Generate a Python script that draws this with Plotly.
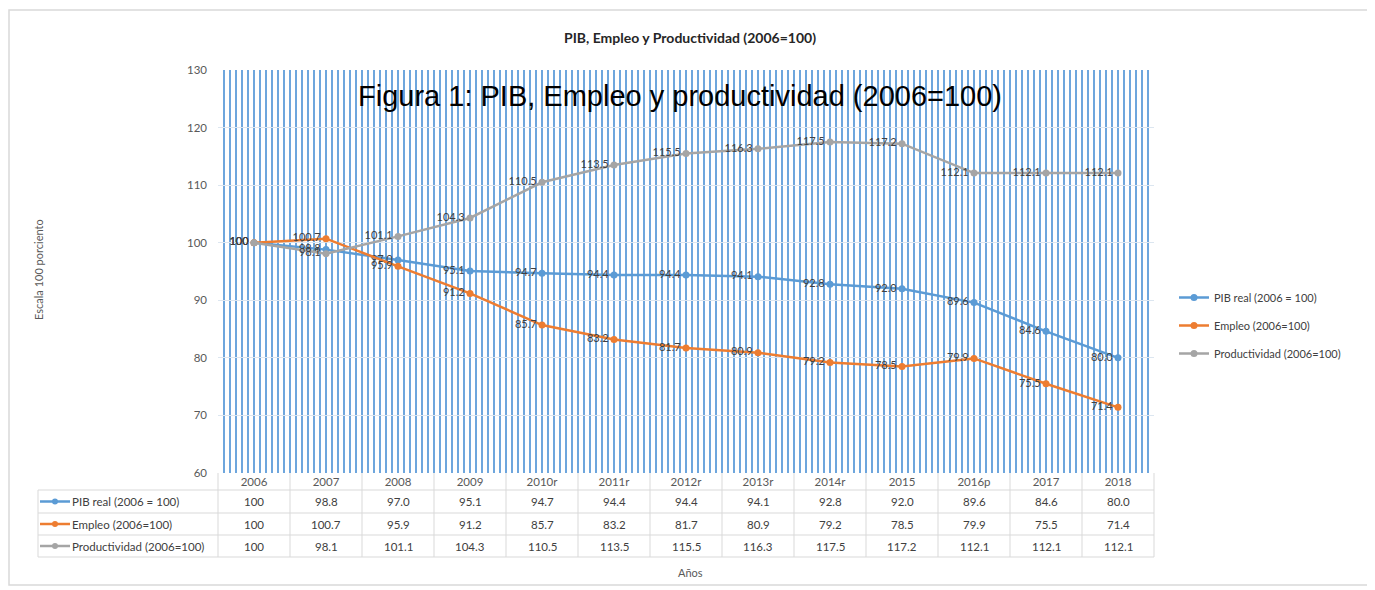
import plotly.graph_objects as go

years = ["2006", "2007", "2008", "2009", "2010r", "2011r", "2012r", "2013r",
         "2014r", "2015", "2016p", "2017", "2018"]
pib = [100, 98.8, 97.0, 95.1, 94.7, 94.4, 94.4, 94.1, 92.8, 92.0, 89.6, 84.6, 80.0]
empleo = [100, 100.7, 95.9, 91.2, 85.7, 83.2, 81.7, 80.9, 79.2, 78.5, 79.9, 75.5, 71.4]
productividad = [100, 98.1, 101.1, 104.3, 110.5, 113.5, 115.5, 116.3, 117.5, 117.2, 112.1, 112.1, 112.1]

series_names = ["PIB real (2006 = 100)", "Empleo (2006=100)", "Productividad (2006=100)"]
series_vals = [pib, empleo, productividad]
colors = ["#5b9bd5", "#ed7d31", "#a5a5a5"]

OFF = 8  # page body offset
W, H = 1375, 590
L, R, T, B = 218 - OFF, 221 + OFF, 70 - OFF, 117 + OFF
PW = W - L - R
PH = H - T - B


def px_x(px):
    return (px - OFF - L) / PW


def px_y(py):
    return (H - B - (py - OFF)) / PH


def fmt(v):
    return "100" if v == 100 else f"{v:.1f}"


idx = list(range(len(years)))
FONT = "Lato, 'Open Sans', sans-serif"

fig = go.Figure()
for name, vals, col in zip(series_names, series_vals, colors):
    fig.add_trace(go.Scatter(
        x=idx, y=vals, name=name, legendgroup=name,
        mode="lines+markers+text",
        line=dict(color=col, width=2.5),
        marker=dict(color=col, size=7, symbol="circle"),
        text=[fmt(v) for v in vals],
        textposition="middle left",
        textfont=dict(family=FONT, size=11, color="#404040"),
        cliponaxis=False,
    ))

shapes = []
annotations = []

# outer border
shapes.append(dict(type="rect", xref="paper", yref="paper",
                   x0=px_x(9), x1=px_x(1371), y0=px_y(585), y1=px_y(10),
                   line=dict(color="#d9d9d9", width=1.5), layer="below"))

# data table grid
n = len(years)
row_lines = [490, 513, 535, 557]
for ry in row_lines:
    shapes.append(dict(type="line", xref="paper", yref="paper",
                       x0=px_x(38), x1=1.0, y0=px_y(ry), y1=px_y(ry),
                       line=dict(color="#d9d9d9", width=1)))
for i in range(n + 1):
    shapes.append(dict(type="line", xref="paper", yref="paper",
                       x0=i / n, x1=i / n, y0=px_y(557), y1=0,
                       line=dict(color="#d9d9d9", width=1)))
shapes.append(dict(type="line", xref="paper", yref="paper",
                   x0=px_x(38), x1=px_x(38), y0=px_y(557), y1=px_y(490),
                   line=dict(color="#d9d9d9", width=1)))

row_centers = [501.5, 524, 546]
for name, vals, col, rc in zip(series_names, series_vals, colors, row_centers):
    yc = px_y(rc)
    shapes.append(dict(type="line", xref="paper", yref="paper",
                       x0=px_x(40), x1=px_x(70), y0=yc, y1=yc,
                       line=dict(color=col, width=2.5)))
    shapes.append(dict(type="circle", xref="paper", yref="paper",
                       xsizemode="pixel", ysizemode="pixel",
                       xanchor=px_x(55), yanchor=yc,
                       x0=-3, x1=3, y0=-3, y1=3,
                       fillcolor=col, line=dict(color=col, width=0)))
    annotations.append(dict(xref="paper", yref="paper", x=px_x(70), y=yc,
                            text=name, showarrow=False, xanchor="left",
                            yanchor="middle",
                            font=dict(family=FONT, size=11.5, color="#404040")))
    for i, v in enumerate(vals):
        annotations.append(dict(xref="x", yref="paper", x=i, y=yc,
                                text=fmt(v), showarrow=False,
                                xanchor="center", yanchor="middle",
                                font=dict(family=FONT, size=11.5, color="#404040")))

# titles
annotations.append(dict(xref="paper", yref="paper", x=px_x(690), y=px_y(37),
                        text="<b>PIB, Empleo y Productividad (2006=100)</b>",
                        showarrow=False, xanchor="center", yanchor="middle",
                        font=dict(family=FONT, size=14, color="#262626")))
annotations.append(dict(xref="paper", yref="paper", x=px_x(680), y=px_y(96),
                        text="Figura 1: PIB, Empleo y productividad (2006=100)",
                        showarrow=False, xanchor="center", yanchor="middle",
                        font=dict(family="Liberation Sans, Arial, sans-serif",
                                  size=29, color="#000000")))
annotations.append(dict(xref="paper", yref="paper", x=px_x(38), y=px_y(270),
                        text="Escala 100 porciento", textangle=-90,
                        showarrow=False, xanchor="center", yanchor="middle",
                        font=dict(family=FONT, size=11, color="#595959")))
annotations.append(dict(xref="paper", yref="paper", x=px_x(690), y=px_y(572),
                        text="Años", showarrow=False,
                        xanchor="center", yanchor="middle",
                        font=dict(family=FONT, size=11, color="#595959")))

fig.update_layout(
    width=W, height=H,
    margin=dict(l=L, r=R, t=T, b=B, autoexpand=False),
    paper_bgcolor="white", plot_bgcolor="white",
    font=dict(family=FONT, size=11, color="#595959"),
    showlegend=True,
    legend=dict(x=px_x(1174), y=px_y(325.5), xanchor="left", yanchor="middle",
                font=dict(family=FONT, size=11, color="#404040"),
                tracegroupgap=9, bgcolor="rgba(0,0,0,0)"),
    shapes=shapes,
    annotations=annotations,
    xaxis=dict(
        range=[-0.5, n - 0.5], tickmode="array", tickvals=idx, ticktext=years,
        showgrid=False, zeroline=False, showline=False, ticks="",
        tickfont=dict(family=FONT, size=11.5, color="#595959"),
        minor=dict(tick0=-0.5, dtick=1 / 12, showgrid=True,
                   gridcolor="#6ea6dd", gridwidth=1.6),
    ),
    yaxis=dict(
        range=[60, 130], dtick=10, showgrid=True, gridcolor="#dce6f0",
        gridwidth=1, zeroline=False, showline=False, ticks="",
        ticklabelstandoff=10,
        tickfont=dict(family=FONT, size=11.5, color="#595959"),
    ),
)

fig.write_html("out.html")
